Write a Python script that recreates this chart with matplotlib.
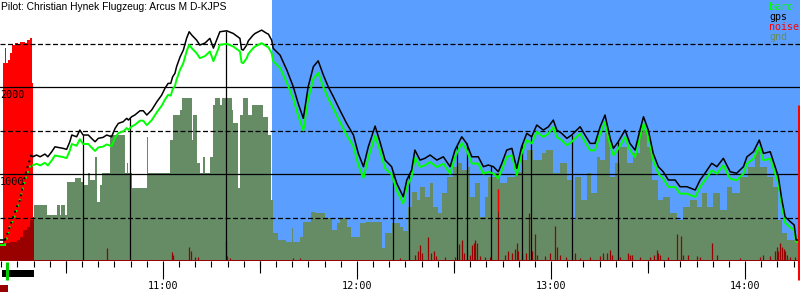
import numpy as np
import matplotlib
matplotlib.use("Agg")
import matplotlib.pyplot as plt
from matplotlib.patches import Rectangle
from matplotlib.transforms import blended_transform_factory, Affine2D

# time axis: minutes after 10:00, altitudes in m, noise as ENL (0..1000)
hour_ticks = [60, 120, 180, 240]
hour_labels = ["11:00", "12:00", "13:00", "14:00"]

# ground run + aerotow (drawn dotted)
tow_t = [11.1, 11.6, 12.6, 13.7, 14.8, 15.8, 16.8, 17.8, 18.8, 19.4, 19.8]
tow_gps = [241, 279, 394, 509, 624, 701, 896, 1046, 1160, 1237, 1198]
tow_baro_t = [11.1, 11.6, 12.6, 13.7, 14.8, 16.3, 17.4, 18.8, 19.8]
tow_baro = [184, 241, 394, 471, 586, 781, 931, 1084, 1100]
ground_t = [9.6, 11.1]
ground_gps = [241, 241]
ground_baro = [184, 184]

gps_t = [19.8, 20.9, 22.0, 23.5, 24.4, 25.6, 26.6, 27.5, 29.1, 30.2,
         31.2, 31.8, 33.3, 34.3, 35.3, 36.9, 37.9, 39.0, 40.0, 41.5,
         42.6, 44.1, 45.2, 46.2, 47.7, 48.8, 49.3, 50.3, 51.3, 52.9,
         53.9, 55.0, 56.5, 58.1, 59.6, 60.6, 61.6, 62.4, 63.0, 63.7,
         64.2, 65.3, 66.3, 67.3, 68.1, 68.9, 70.4, 71.4, 73.0, 74.5,
         75.6, 77.6, 79.7, 81.7, 83.8, 84.3, 84.8, 85.9, 86.4, 87.9,
         88.5, 90.5, 92.1, 92.6, 93.6, 94.1, 96.2, 98.3, 100.3, 101.8,
         103.4, 104.9, 106.5, 108.0, 109.6, 111.1, 112.7, 114.7, 116.8, 118.9,
         120.4, 122.0, 123.5, 125.6, 127.1, 128.7, 130.7, 132.3, 133.3, 134.3,
         135.4, 136.9, 137.9, 139.5, 141.0, 142.6, 144.7, 146.7, 148.8, 150.3,
         152.4, 153.9, 155.5, 157.5, 159.1, 160.6, 162.2, 163.7, 164.8, 166.3,
         167.9, 169.4, 170.9, 172.5, 174.0, 175.6, 177.6, 179.2, 180.7, 181.8,
         183.3, 184.9, 186.4, 189.0, 190.5, 192.1, 193.6, 195.2, 196.7, 198.3,
         199.3, 200.8, 202.9, 204.4, 206.0, 207.5, 208.6, 210.1, 211.6, 213.2,
         214.7, 216.3, 218.4, 219.9, 222.0, 224.6, 226.1, 227.6, 229.7, 231.3,
         233.3, 235.4, 237.4, 239.5, 240.6, 242.6, 244.4, 245.7, 247.8, 249.3,
         250.3, 251.4, 252.4, 254.0, 255.2, 255.8, 257.0]
gps_alt = [1198, 1218, 1198, 1229, 1198, 1256, 1313, 1306, 1295, 1283,
           1371, 1448, 1428, 1505, 1448, 1448, 1410, 1371, 1410, 1421,
           1448, 1428, 1525, 1582, 1601, 1640, 1620, 1658, 1678, 1727,
           1727, 1678, 1735, 1830, 1907, 1984, 2042, 2042, 2118, 2157,
           2233, 2347, 2424, 2559, 2635, 2597, 2539, 2482, 2505, 2559,
           2447, 2635, 2646, 2616, 2559, 2432, 2424, 2482, 2531, 2597,
           2616, 2654, 2616, 2608, 2539, 2444, 2367, 2195, 2003, 1812,
           1640, 2003, 2233, 2301, 2137, 2003, 1888, 1735, 1582, 1448,
           1237, 1084, 1313, 1551, 1371, 1160, 1084, 893, 816, 739,
           931, 1046, 1275, 1160, 1180, 1218, 1160, 1198, 1084, 1275,
           1428, 1352, 1198, 1198, 1084, 1103, 1084, 1026, 1123, 1275,
           1295, 1065, 1313, 1467, 1428, 1563, 1505, 1543, 1620, 1505,
           1467, 1410, 1448, 1543, 1448, 1352, 1352, 1543, 1678, 1410,
           1295, 1371, 1505, 1352, 1275, 1505, 1658, 1505, 1237, 1084,
           1026, 931, 931, 854, 854, 816, 931, 1008, 1123, 1084,
           1180, 1026, 1008, 1084, 1198, 1256, 1390, 1237, 1256, 1084,
           969, 701, 509, 452, 414, 241, 241]
baro_alt = [1100, 1118, 1098, 1129, 1098, 1156, 1213, 1206, 1195, 1183,
            1271, 1345, 1325, 1400, 1345, 1345, 1305, 1265, 1305, 1315,
            1340, 1320, 1415, 1470, 1490, 1528, 1508, 1545, 1565, 1613,
            1613, 1562, 1618, 1710, 1785, 1855, 1910, 1900, 1975, 2012,
            2085, 2200, 2275, 2410, 2485, 2447, 2389, 2332, 2355, 2409,
            2297, 2485, 2496, 2466, 2409, 2282, 2274, 2332, 2381, 2447,
            2466, 2504, 2466, 2458, 2390, 2295, 2220, 2050, 1860, 1670,
            1500, 1865, 2095, 2163, 2000, 1866, 1752, 1600, 1448, 1315,
            1105, 955, 1190, 1440, 1270, 1065, 995, 810, 735, 660,
            851, 966, 1195, 1080, 1100, 1138, 1080, 1118, 1004, 1195,
            1355, 1275, 1120, 1120, 1005, 1025, 1005, 950, 1045, 1195,
            1215, 985, 1233, 1390, 1350, 1485, 1425, 1465, 1540, 1425,
            1390, 1330, 1370, 1465, 1370, 1272, 1272, 1463, 1598, 1330,
            1215, 1291, 1425, 1272, 1195, 1425, 1578, 1425, 1157, 1004,
            946, 851, 851, 774, 774, 736, 851, 928, 1043, 1004,
            1100, 946, 928, 1004, 1118, 1176, 1310, 1157, 1176, 1006,
            892, 630, 440, 385, 350, 222, 222]

gnd_t = [9.6, 12.6, 14.8, 15.8, 16.8, 17.8, 18.8, 19.8, 20.1, 24.0,
         27.1, 28.1, 28.6, 29.7, 30.2, 32.8, 34.8, 35.3, 36.9, 37.4,
         39.0, 39.5, 40.5, 41.0, 43.6, 48.2, 48.8, 49.3, 50.3, 55.0,
         55.5, 62.2, 63.2, 65.3, 65.8, 68.9, 69.4, 70.4, 71.4, 72.4,
         73.0, 74.5, 75.6, 76.1, 77.6, 78.1, 81.2, 81.7, 83.3, 83.8,
         84.8, 86.4, 87.4, 91.0, 92.6, 93.4, 93.9, 95.6, 98.2, 99.8,
         100.3, 102.4, 103.4, 105.9, 107.0, 110.1, 112.2, 113.7, 114.7, 116.8,
         118.3, 120.9, 122.9, 127.6, 128.6, 130.7, 133.3, 134.3, 135.9, 136.9,
         138.5, 139.5, 141.0, 142.6, 143.6, 145.2, 146.2, 147.8, 149.8, 150.9,
         152.4, 153.9, 155.0, 156.5, 158.1, 159.6, 160.6, 162.7, 164.2, 166.3,
         168.8, 170.9, 172.5, 174.5, 177.1, 178.6, 180.7, 182.7, 184.8, 186.4,
         187.4, 189.4, 191.0, 192.5, 194.1, 195.2, 196.7, 198.3, 199.8, 201.3,
         203.4, 205.5, 207.5, 209.6, 211.2, 213.2, 214.7, 216.8, 218.9, 220.9,
         223.0, 225.1, 226.6, 228.2, 230.2, 232.3, 234.4, 235.9, 238.5, 241.0,
         243.1, 244.7, 246.7, 248.8, 250.3, 251.4, 252.9, 256.0, 257.0]
gnd_alt = [207, 222, 245, 279, 356, 394, 471, 509, 643, 529,
           643, 529, 643, 529, 911, 950, 911, 873, 1011, 931,
           1198, 681, 873, 1008, 1448, 1011, 1126, 1011, 835, 1428,
           1011, 1390, 1678, 1735, 1876, 1390, 1678, 1126, 1008, 1198,
           1008, 1198, 1792, 1876, 1792, 1876, 1735, 1586, 839, 1678,
           1876, 1678, 1792, 1658, 1448, 701, 322, 241, 222, 379,
           222, 279, 452, 566, 548, 491, 356, 437, 491, 394,
           279, 437, 452, 149, 322, 437, 394, 345, 624, 796,
           701, 854, 739, 893, 624, 548, 778, 969, 1084, 1123,
           1046, 1084, 739, 893, 509, 739, 969, 1008, 893, 969,
           1026, 1160, 1275, 1160, 1241, 1275, 1008, 1123, 931, 471,
           969, 701, 1008, 778, 1198, 1160, 1471, 969, 1123, 1313,
           1123, 1241, 1505, 1313, 931, 701, 739, 548, 471, 624,
           701, 624, 778, 624, 778, 586, 854, 778, 969, 1084,
           1275, 1084, 969, 854, 471, 318, 241, 207, 207]

# engine noise during the start
start_noise_t = [10.6, 11.1, 11.4, 12.2, 12.7, 13.2, 14.2, 15.2, 15.8, 17.3,
                 17.8, 18.8, 19.4, 19.6, 19.9]
start_noise = [759, 816, 759, 770, 797, 828, 835, 828, 840, 835,
               847, 854, 835, 682, 682]

# noise in flight
noise_t = [42.8, 62.7, 63.2, 68.1, 68.7, 69.9, 70.9, 79.4, 79.9, 80.7,
           100.2, 102.4, 133.3, 137.9, 139.0, 139.5, 140.2, 142.1, 142.9, 143.7,
           144.5, 147.3, 150.3, 151.4, 152.4, 153.1, 155.0, 155.5, 156.2, 156.5,
           157.0, 158.1, 159.6, 161.1, 163.5, 165.8, 166.8, 168.0, 168.9, 169.4,
           169.8, 171.0, 172.3, 173.3, 174.1, 175.1, 175.7, 178.1, 179.7, 181.2,
           181.7, 182.7, 184.6, 187.3, 189.0, 192.1, 195.2, 196.1, 197.2, 198.3,
           198.9, 201.3, 203.9, 204.4, 205.0, 207.5, 210.6, 211.8, 212.7, 213.1,
           213.7, 216.2, 219.1, 220.1, 220.8, 222.5, 225.1, 226.1, 229.7, 231.3,
           238.5, 244.7, 245.7, 247.8, 249.3, 249.8, 250.3, 250.8, 251.4, 251.9,
           252.4, 253.0, 254.0, 255.5]
noise_v = [50, 34, 23, 54, 38, 15, 15, 77, 19, 11,
           11, 11, 11, 23, 38, 61, 31, 92, 31, 38,
           19, 15, 15, 65, 80, 31, 23, 61, 69, 80,
           69, 19, 15, 15, 276, 23, 38, 31, 46, 69,
           38, 23, 31, 184, 38, 103, 23, 19, 31, 134,
           54, 23, 15, 31, 11, 15, 19, 31, 31, 42,
           23, 15, 31, 23, 23, 15, 15, 23, 42, 31,
           23, 15, 103, 96, 23, 23, 19, 15, 69, 23,
           11, 15, 23, 19, 38, 54, 38, 69, 54, 46,
           38, 23, 15, 15]

marker_t = [35.3, 49.8, 79.4, 131.2, 136.2, 151.0, 153.9, 161.4, 171.1, 173.8, 186.4, 200.8]

engine_on, engine_off = 10.2, 20.1
takeoff = 11.9
blue_from = 93.7
landing_t, landing_noise = 256.6, 598

BLUE = '#5a9fff'
GND = '#658c65'
RED = '#ff0000'
DARKRED = '#990000'
GREEN = '#00ff00'

fig = plt.figure(figsize=(8, 3), dpi=100)
ax = fig.add_axes([0, 0.13, 1, 0.87])
ax.set_xlim(9.6, 257.0)
ax.set_ylim(0, 3000)

bt = blended_transform_factory(ax.transData, ax.transAxes)
noise_tr = blended_transform_factory(ax.transData, Affine2D().scale(1, 1 / 1000) + ax.transAxes)

ax.axvspan(blue_from, 257.0, color=BLUE, lw=0, zorder=0)

gt = np.array(gnd_t)
ax.fill_between(gnd_t, 0, gnd_alt, step='post', color=GND, lw=0, zorder=1)
ax.fill_between(start_noise_t, 0, start_noise, step='post', color=RED, lw=0,
                zorder=2, transform=noise_tr)
ax.fill_between(gnd_t, 0, gnd_alt, where=gt <= engine_off, step='post',
                color=DARKRED, lw=0, zorder=2.5)

nt = np.array(noise_t)
nv = np.array(noise_v)
ax.vlines(nt, 0, nv, color=DARKRED, lw=0.9, zorder=2.6, transform=noise_tr)
hi = nv > 190
ax.vlines(nt[hi], 190, nv[hi], color=RED, lw=0.9, zorder=2.7, transform=noise_tr)

for h in [500, 1500, 2500]:
    ax.axhline(h, color='black', lw=0.9, ls=(0, (4, 2)), zorder=3)
for h in [1000, 2000]:
    ax.axhline(h, color='black', lw=0.9, zorder=3)
    ax.annotate(str(h), (9.6, h), xytext=(0, -7.6), textcoords='offset points',
                va='baseline', ha='left', fontsize=7.3, family='DejaVu Sans Mono', zorder=6)

ax.vlines(marker_t, 0, np.interp(marker_t, gps_t, gps_alt), color='black', lw=0.9, zorder=3.5)

ax.plot(ground_t, ground_baro, color=GREEN, lw=1.4, zorder=4)
ax.plot(ground_t, ground_gps, color='black', lw=1.1, zorder=5)
ax.plot(tow_baro_t, tow_baro, color=GREEN, lw=1.4, ls=(0, (1, 2)), zorder=4)
ax.plot(tow_t, tow_gps, color='black', lw=1.4, ls=(0, (1, 2)), zorder=5)
ax.plot(gps_t, baro_alt, color=GREEN, lw=1.4, zorder=4)
ax.plot(gps_t, gps_alt, color='black', lw=1.1, zorder=5)

ax.axhline(0, color=DARKRED, lw=1.4, zorder=6)

# engine run / takeoff / landing markers below the time axis
ax.add_patch(Rectangle((engine_on, -0.060), engine_off - engine_on, 0.026,
                       transform=bt, color='black', lw=0, clip_on=False, zorder=6))
ax.vlines(takeoff, -0.073, -0.003, transform=bt, color='#00cc00', lw=2.2, clip_on=False, zorder=7)
ax.vlines(landing_t, -73, landing_noise, transform=noise_tr, color=RED, lw=2.2,
          clip_on=False, zorder=7)
fig.patches.append(Rectangle((0, 0.027), 0.01, 0.023, transform=fig.transFigure,
                             color=DARKRED, lw=0))

for s in ax.spines.values():
    s.set_visible(False)
ax.set_yticks([])
ax.set_xticks(hour_ticks)
ax.set_xticklabels(hour_labels, family='DejaVu Sans Mono', fontsize=7.3)
ax.set_xticks(np.arange(10, 256, 5), minor=True)
ax.tick_params(axis='x', which='major', length=13.2, width=0.8, pad=1.5, color='black')
ax.tick_params(axis='x', which='minor', length=4.1, width=0.8, color='black')

sec = ax.secondary_xaxis('bottom')
sec.set_xticks([30, 90, 150, 210])
sec.set_xticklabels([])
sec.tick_params(length=8.4, width=0.8)
sec.spines['bottom'].set_visible(False)

fig.text(0.001, 1 - 6.5 / 300, "Pilot: Christian Hynek Flugzeug: Arcus M D-KJPS",
         va='center', ha='left', fontsize=7.4, family='Liberation Sans')
legend = [("baro", GREEN), ("gps", 'black'), ("noise", RED), ("gnd", GND)]
for i, (name, c) in enumerate(legend):
    fig.text(769 / 800, 1 - (10 + 10 * i) / 300, name, color=c, va='baseline', ha='left',
             fontsize=7.2, family='DejaVu Sans Mono')

fig.savefig("out.png", dpi=100)
